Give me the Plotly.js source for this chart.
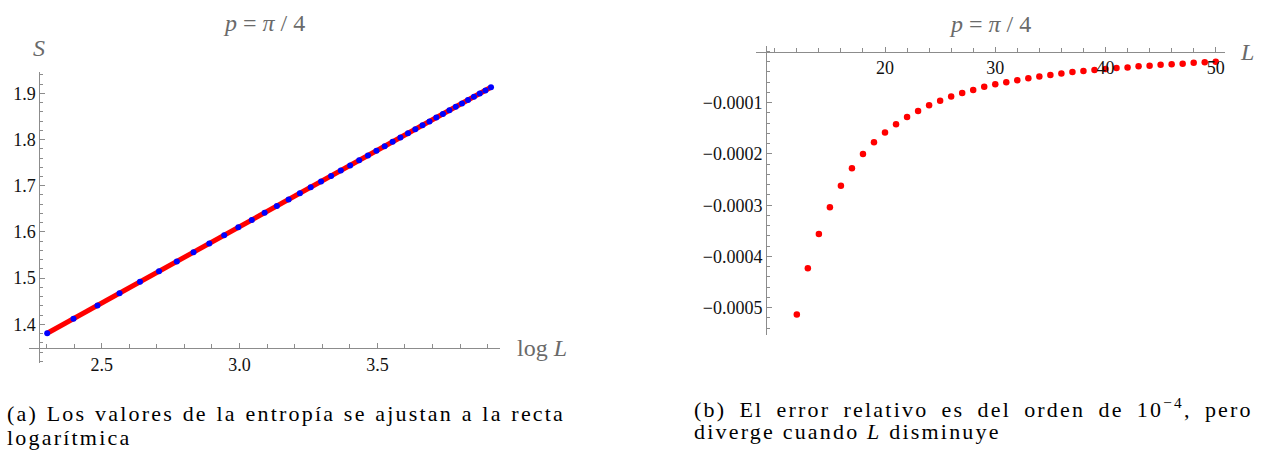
<!DOCTYPE html>
<html>
<head>
<meta charset="utf-8">
<script src="https://cdn.plot.ly/plotly-3.0.1.min.js"></script>
<style>
html,body{margin:0;padding:0;background:#fff;}
#chart{width:1268px;height:455px;}
</style>
</head>
<body>
<div id="chart"></div>
<script>
// ---- Data ----
// (a) entropy S versus log L, L = 10..50
const logL = [2.3026, 2.3979, 2.4849, 2.5649, 2.6391, 2.7081, 2.7726, 2.8332, 2.8904, 2.9444,
              2.9957, 3.0445, 3.0910, 3.1355, 3.1781, 3.2189, 3.2581, 3.2958, 3.3322, 3.3673,
              3.4012, 3.4340, 3.4657, 3.4965, 3.5264, 3.5553, 3.5835, 3.6109, 3.6376, 3.6636,
              3.6889, 3.7136, 3.7377, 3.7612, 3.7842, 3.8067, 3.8286, 3.8501, 3.8712, 3.8918, 3.9120];
const entropyS = [1.3806, 1.4121, 1.4409, 1.4674, 1.4919, 1.5147, 1.5361, 1.5561, 1.5750, 1.5929,
                  1.6099, 1.6260, 1.6414, 1.6561, 1.6702, 1.6837, 1.6967, 1.7092, 1.7212, 1.7328,
                  1.7440, 1.7549, 1.7654, 1.7755, 1.7854, 1.7950, 1.8043, 1.8134, 1.8222, 1.8308,
                  1.8392, 1.8474, 1.8553, 1.8631, 1.8707, 1.8782, 1.8854, 1.8925, 1.8995, 1.9063, 1.9130];
// fitted logarithmic line (end points)
const fitLogL = [2.3026, 3.9120];
const fitS = [1.3806, 1.9130];

// (b) relative error versus L, L = 12..50
const errL = [12, 13, 14, 15, 16, 17, 18, 19, 20, 21, 22, 23, 24, 25, 26, 27, 28, 29, 30, 31,
              32, 33, 34, 35, 36, 37, 38, 39, 40, 41, 42, 43, 44, 45, 46, 47, 48, 49, 50];
const relErr = [-5.13e-4, -4.23e-4, -3.56e-4, -3.04e-4, -2.62e-4, -2.28e-4, -2.00e-4, -1.77e-4, -1.58e-4, -1.42e-4,
                -1.28e-4, -1.16e-4, -1.05e-4, -0.96e-4, -0.88e-4, -0.81e-4, -0.75e-4, -0.69e-4, -0.64e-4, -0.60e-4,
                -0.56e-4, -0.52e-4, -0.49e-4, -0.46e-4, -0.43e-4, -0.40e-4, -0.38e-4, -0.36e-4, -0.34e-4, -0.32e-4,
                -0.31e-4, -0.29e-4, -0.28e-4, -0.26e-4, -0.25e-4, -0.24e-4, -0.22e-4, -0.21e-4, -0.20e-4];

// tick labels
const leftXTicks = [2.5, 3.0, 3.5];
const leftXTickText = ['2.5', '3.0', '3.5'];
const leftYTicks = [1.4, 1.5, 1.6, 1.7, 1.8, 1.9];
const leftYTickText = ['1.4', '1.5', '1.6', '1.7', '1.8', '1.9'];
const rightXTicks = [20, 30, 40, 50];
const rightXTickText = ['20', '30', '40', '50'];
const rightYTicks = [-0.0005, -0.0004, -0.0003, -0.0002, -0.0001];
const rightYTickText = ['\u22120.0005', '\u22120.0004', '\u22120.0003', '\u22120.0002', '\u22120.0001'];

// ---- Styling ----
const W = 1268, H = 455;
const px = v => v / W;
const py = v => 1 - v / H;
const AX = '#8c8c8c';
const LAB = '#6a6a6a';
const SERIF = 'Liberation Serif, Times New Roman, serif';
const CAP = 'letter-spacing:2.2px';

function axisBase(extra) {
  return Object.assign({
    showgrid: false, zeroline: false, showline: true,
    linecolor: AX, linewidth: 1,
    ticks: 'inside', ticklen: 5, tickwidth: 1, tickcolor: AX,
    tickfont: {family: SERIF, size: 18, color: '#111111'},
    tickmode: 'array', fixedrange: true
  }, extra);
}

function label(text, x, y, size, color, anchor) {
  return {text: text, x: px(x), y: py(y), xref: 'paper', yref: 'paper',
          xanchor: anchor || 'center', yanchor: 'middle', showarrow: false,
          font: {family: SERIF, size: size, color: color}};
}

const traces = [
  {x: fitLogL, y: fitS, type: 'scatter', mode: 'lines',
   line: {color: '#ff0000', width: 5}, xaxis: 'x', yaxis: 'y', hoverinfo: 'skip'},
  {x: logL, y: entropyS, type: 'scatter', mode: 'markers',
   marker: {color: '#0000ff', size: 6}, xaxis: 'x', yaxis: 'y'},
  {x: errL, y: relErr, type: 'scatter', mode: 'markers',
   marker: {color: '#ff0000', size: 6.5}, xaxis: 'x2', yaxis: 'y2'}
];

const layout = {
  width: W, height: H,
  margin: {l: 0, r: 0, t: 0, b: 0},
  font: {family: SERIF, size: 18, color: '#111111'},
  paper_bgcolor: '#fff', plot_bgcolor: 'rgba(0,0,0,0)',
  showlegend: false,
  xaxis: axisBase({
    domain: [px(29.3), px(500)], range: [2.2377, 3.9446],
    anchor: 'free', position: py(348.3), side: 'bottom',
    tickvals: leftXTicks, ticktext: leftXTickText,
    minor: {dtick: 0.1, tick0: 0, ticks: 'inside', ticklen: 4, tickcolor: AX}
  }),
  yaxis: axisBase({
    domain: [py(363.3), py(71.7)], range: [1.3156, 1.9468],
    anchor: 'free', position: px(39.3), side: 'left',
    tickvals: leftYTicks, ticktext: leftYTickText,
    minor: {dtick: 0.02, tick0: 0, ticks: 'inside', ticklen: 3, tickcolor: AX}
  }),
  xaxis2: axisBase({
    domain: [px(755.7), px(1225)], range: [8.27, 50.84],
    anchor: 'free', position: py(51.5), side: 'bottom',
    tickvals: rightXTicks, ticktext: rightXTickText,
    minor: {dtick: 2, tick0: 0, ticks: 'inside', ticklen: 4, tickcolor: AX}
  }),
  yaxis2: axisBase({
    domain: [py(335), py(45.7)], range: [-5.532e-4, 1.13e-5],
    anchor: 'free', position: px(766), side: 'left',
    tickvals: rightYTicks, ticktext: rightYTickText,
    minor: {dtick: 0.00002, tick0: 0, ticks: 'inside', ticklen: 3, tickcolor: AX}
  }),
  annotations: [
    label('<i>p</i> = <i>π</i> / 4', 264, 23, 24, LAB),
    label('<i>p</i> = <i>π</i> / 4', 990, 24, 24, LAB),
    label('<i>S</i>', 38.5, 48, 24, LAB),
    label('log <i>L</i>', 541.5, 348, 24, LAB),
    label('<i>L</i>', 1247, 52, 24, LAB),
    label('<span style="' + CAP + ';word-spacing:1px">(a) Los valores de la entropía se ajustan a la recta</span>', 5, 413, 22, '#000', 'left'),
    label('<span style="' + CAP + '">logarítmica</span>', 5, 437, 22, '#000', 'left'),
    label('<span style="' + CAP + ';word-spacing:5.5px">(b) El error relativo es del orden de 10<sup>−4</sup>, pero</span>', 691.7, 408, 22, '#000', 'left'),
    label('<span style="' + CAP + '">diverge cuando <i>L</i> disminuye</span>', 691.7, 431, 22, '#000', 'left')
  ]
};

Plotly.newPlot('chart', traces, layout, {staticPlot: true, displayModeBar: false});
</script>
</body>
</html>
